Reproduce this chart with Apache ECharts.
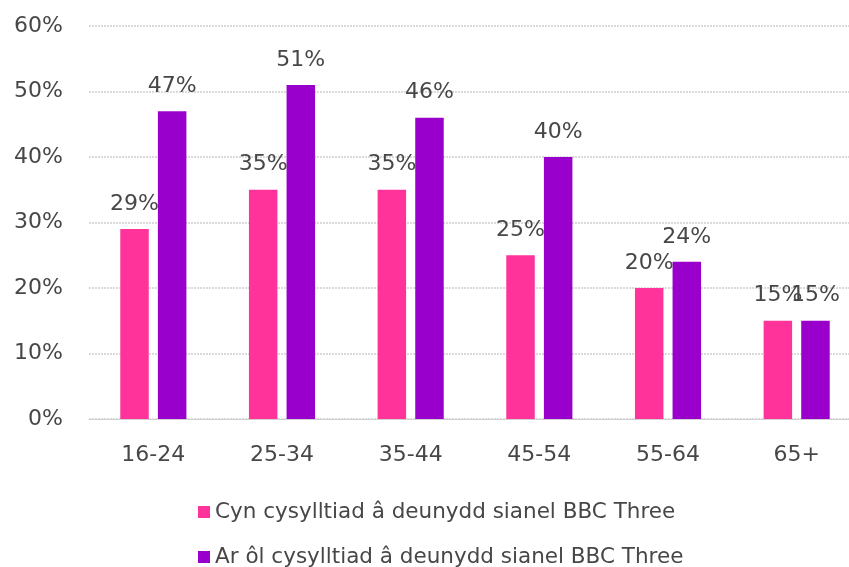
<!DOCTYPE html>
<html><head><meta charset="utf-8">
<script src="https://cdn.jsdelivr.net/npm/echarts@6/dist/echarts.min.js"></script>
<style>html,body{margin:0;padding:0;background:#fff;overflow:hidden}#c{width:862px;height:567px}</style>
</head><body><div id="c"></div>
<script>
const categories = ["16-24", "25-34", "35-44", "45-54", "55-64", "65+"];
const seriesNames = ["Cyn cysylltiad â deunydd sianel BBC Three", "Ar ôl cysylltiad â deunydd sianel BBC Three"];
const beforeValues = [29, 35, 35, 25, 20, 15];
const afterValues = [47, 51, 46, 40, 24, 15];
const yTicks = [0, 10, 20, 30, 40, 50, 60];

const FONT = "DejaVu Sans";
const TXT = "#474747";
const chart = echarts.init(document.getElementById('c'), null, {renderer: 'canvas'});
const labelCfg = {show: true, position: 'top', distance: 14, formatter: p => p.value + '%', color: TXT, fontFamily: FONT, fontSize: 22};
const legendText = {color: TXT, fontFamily: FONT, fontSize: 21.5};
chart.setOption({
  animation: false,
  grid: {left: 89, top: 26, right: 1, height: 393, containLabel: false},
  legend: [
    {left: 193, top: 496, itemWidth: 12, itemHeight: 12, icon: 'rect', data: [seriesNames[0]], textStyle: legendText},
    {left: 193, top: 541, itemWidth: 12, itemHeight: 12, icon: 'rect', data: [seriesNames[1]], textStyle: legendText}
  ],
  xAxis: {
    type: 'category', data: categories,
    axisLine: {show: true, lineStyle: {color: '#d0d0d0', width: 1}},
    axisTick: {show: false},
    axisLabel: {color: TXT, fontFamily: FONT, fontSize: 22, margin: 25}
  },
  yAxis: {
    type: 'value', min: yTicks[0], max: yTicks[yTicks.length - 1], interval: 10,
    axisLine: {show: false}, axisTick: {show: false},
    splitLine: {show: true, lineStyle: {color: '#d0d0d0', type: [2, 1], width: 1.5}},
    axisLabel: {color: TXT, fontFamily: FONT, fontSize: 22, margin: 26, formatter: v => v + '%'}
  },
  series: [
    {name: seriesNames[0], type: 'bar', data: beforeValues, barWidth: 28.5, barGap: '32%',
     itemStyle: {color: '#FF3399'}, label: labelCfg},
    {name: seriesNames[1], type: 'bar', data: afterValues, barWidth: 28.5, barGap: '32%',
     itemStyle: {color: '#9900CC'}, label: labelCfg}
  ]
});
</script></body></html>
